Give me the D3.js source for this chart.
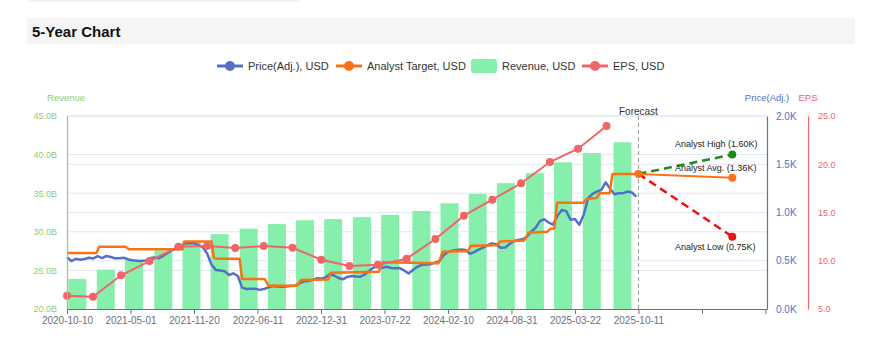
<!DOCTYPE html>
<html><head><meta charset="utf-8">
<script src="https://cdn.jsdelivr.net/npm/d3@7"></script>
<style>
body{margin:0;background:#fff;}
svg{display:block;font-family:"Liberation Sans",Arial,sans-serif;}
</style>
</head><body>
<svg id="chart" width="877" height="340"></svg>
<script>
// ---------- DATA ----------
const xTickDates = ["2020-10-10","2021-05-01","2021-11-20","2022-06-11","2022-12-31","2023-07-22","2024-02-10","2024-08-31","2025-03-22","2025-10-11","2026-05-02","2026-11-21"];
const xTickLabels = ["2020-10-10","2021-05-01","2021-11-20","2022-06-11","2022-12-31","2023-07-22","2024-02-10","2024-08-31","2025-03-22","2025-10-11","",""];

const revTicks = [20,25,30,35,40,45];          // B USD
const priceTicks = [0,0.5,1.0,1.5,2.0];        // K USD
const epsTicks = [5,10,15,20,25];

const revenueDates = ["2020-11-12","2021-02-11","2021-05-12","2021-08-14","2021-11-12","2022-02-10","2022-05-14","2022-08-12","2022-11-10","2023-02-08","2023-05-11","2023-08-09","2023-11-17","2024-02-15","2024-05-15","2024-08-13","2024-11-14","2025-02-12","2025-05-15","2025-08-21"];
const revenueValues = [23.9,25.1,26.4,27.6,28.8,29.7,30.4,31.0,31.5,31.65,31.9,32.2,32.7,33.7,34.9,36.3,37.6,39.0,40.2,41.6];

const epsDates = ["2020-10-10","2021-01-01","2021-04-01","2021-07-01","2021-10-01","2022-01-01","2022-04-01","2022-07-01","2022-10-01","2023-01-01","2023-04-01","2023-07-01","2023-10-01","2024-01-01","2024-04-01","2024-07-01","2024-10-01","2025-01-01","2025-04-01","2025-07-01"];
const epsValues = [6.38,6.27,8.49,9.97,11.46,11.53,11.32,11.53,11.35,10.11,9.46,9.59,10.21,12.25,14.67,16.33,18.03,20.23,21.61,23.96];

// Price (adj.), K USD, sampled every 14 days from priceStart
const priceStart = "2020-10-10";
const priceStepDays = 14;
const priceValues = [0.536,0.497,0.520,0.511,0.518,0.531,0.524,0.547,0.528,0.550,0.539,0.525,0.527,0.531,0.514,0.505,0.499,0.497,0.504,0.528,0.534,0.527,0.551,0.582,0.611,0.627,0.655,0.680,0.681,0.681,0.665,0.640,0.575,0.461,0.403,0.398,0.392,0.352,0.370,0.342,0.221,0.207,0.209,0.211,0.198,0.207,0.224,0.238,0.232,0.231,0.233,0.238,0.240,0.264,0.284,0.290,0.299,0.318,0.315,0.327,0.360,0.347,0.321,0.308,0.332,0.342,0.336,0.335,0.358,0.396,0.431,0.441,0.428,0.438,0.425,0.422,0.424,0.400,0.367,0.404,0.437,0.458,0.461,0.463,0.481,0.494,0.558,0.590,0.605,0.612,0.616,0.611,0.573,0.589,0.615,0.637,0.658,0.680,0.670,0.634,0.636,0.670,0.702,0.716,0.723,0.748,0.803,0.840,0.910,0.930,0.895,0.874,0.965,1.027,1.014,0.925,0.932,0.873,0.976,1.146,1.193,1.217,1.232,1.312,1.249,1.190,1.200,1.200,1.217,1.207,1.165];

// Analyst target, K USD
const targetDates = ["2020-10-13","2021-01-12","2021-01-21","2021-04-15","2021-04-26","2021-10-14","2021-10-20","2022-01-15","2022-01-23","2022-01-31","2022-04-15","2022-04-23","2022-07-04","2022-07-17","2022-10-15","2022-10-28","2023-01-23","2023-02-01","2023-07-04","2023-07-17","2024-01-11","2024-01-24","2024-04-14","2024-04-23","2024-07-16","2024-07-26","2024-10-11","2024-10-24","2024-12-23","2025-01-02","2025-01-15","2025-01-24","2025-04-18","2025-04-28","2025-05-30","2025-06-09","2025-07-11","2025-07-20","2025-10-11"];
const targetValues = [0.58,0.58,0.645,0.645,0.62,0.62,0.70,0.70,0.53,0.52,0.52,0.31,0.31,0.24,0.24,0.30,0.305,0.376,0.385,0.484,0.475,0.594,0.60,0.656,0.66,0.70,0.71,0.79,0.80,0.83,0.835,1.10,1.10,1.14,1.15,1.20,1.20,1.40,1.40];

// Forecast
const forecastStart = "2025-10-11";
const forecastEnd = "2026-08-07";
const forecastNow = 1.40;
const forecastNames = ["Analyst High","Analyst Avg.","Analyst Low"];
const forecastValues = [1.60,1.36,0.75];

const legendNames = ["Price(Adj.), USD","Analyst Target, USD","Revenue, USD","EPS, USD"];

// ---------- STYLE ----------
const C = {price:"#5470c6", target:"#f97316", rev:"#86efac", eps:"#ee6666", high:"#1f8a1f", low:"#ee1111",
  axis:"#6e7079", grid:"#e0e6f1", revAxis:"#91cc75"};

const parse = d3.timeParse("%Y-%m-%d");
const svg = d3.select("#chart");

// header
svg.append("rect").attr("x",29).attr("y",0).attr("width",270).attr("height",2).attr("fill","#eef1f6");
svg.append("rect").attr("x",27).attr("y",18).attr("width",828).attr("height",26).attr("rx",2).attr("fill","#f5f5f5");
svg.append("text").attr("x",32).attr("y",37).attr("font-size",15).attr("font-weight","bold").attr("fill","#111").text("5-Year Chart");

// scales
const x = d3.scaleTime().domain([parse("2020-10-10"), parse("2026-11-26")]).range([67, 767]);
const yRev = d3.scaleLinear().domain([20,45]).range([309,116]);
const yPrice = d3.scaleLinear().domain([0,2]).range([309,116]);
const yEps = d3.scaleLinear().domain([5,25]).range([309,116]);

// grid
const grid = svg.append("g");
revTicks.slice(1).forEach(v=>{
  grid.append("line").attr("x1",67).attr("x2",767).attr("y1",yRev(v)).attr("y2",yRev(v)).attr("stroke",C.grid);
});
priceTicks.slice(1).forEach(v=>{
  grid.append("line").attr("x1",67).attr("x2",767).attr("y1",yPrice(v)).attr("y2",yPrice(v)).attr("stroke",C.grid);
});

// bars
const barW = 18;
svg.append("g").selectAll("rect").data(revenueValues).join("rect")
  .attr("x",(d,i)=>x(parse(revenueDates[i]))-barW/2)
  .attr("width",barW)
  .attr("y",d=>yRev(d))
  .attr("height",d=>yRev(20)-yRev(d))
  .attr("fill",C.rev);

// price
const priceData = priceValues.map((v,i)=>[d3.timeDay.offset(parse(priceStart), i*priceStepDays), v]);
const line = (ys)=>d3.line().x(d=>x(d[0])).y(d=>ys(d[1]));
svg.append("path").datum(priceData).attr("d",line(yPrice)).attr("fill","none").attr("stroke",C.price).attr("stroke-width",2.5).attr("stroke-linejoin","round");

// target
const targetData = targetValues.map((v,i)=>[parse(targetDates[i]), v]);
svg.append("path").datum(targetData).attr("d",line(yPrice)).attr("fill","none").attr("stroke",C.target).attr("stroke-width",2.5).attr("stroke-linejoin","round");

// EPS
const epsData = epsValues.map((v,i)=>[parse(epsDates[i]), v]);
svg.append("path").datum(epsData).attr("d",line(yEps)).attr("fill","none").attr("stroke",C.eps).attr("stroke-width",2);
svg.append("g").selectAll("circle").data(epsData).join("circle")
  .attr("cx",d=>x(d[0])).attr("cy",d=>yEps(d[1])).attr("r",4).attr("fill",C.eps);

// forecast divider
const fx = x(parse(forecastStart));
svg.append("line").attr("x1",fx).attr("x2",fx).attr("y1",116).attr("y2",309).attr("stroke","#999").attr("stroke-dasharray","4,3");
svg.append("text").attr("x",fx).attr("y",115).attr("text-anchor","middle").attr("font-size",10).attr("fill","#333").text("Forecast");

// forecast lines
const fEnd = parse(forecastEnd);
const fColors = [C.high, C.target, C.low];
const fDash = ["8,5", null, "8,5"];
const fLabelY = [147, 171, 250];
forecastValues.forEach((v,i)=>{
  svg.append("line").attr("x1",fx).attr("y1",yPrice(forecastNow)).attr("x2",x(fEnd)).attr("y2",yPrice(v))
    .attr("stroke",fColors[i]).attr("stroke-width",i===1?2:2.5).attr("stroke-dasharray",fDash[i]);
});
forecastValues.forEach((v,i)=>{
  svg.append("circle").attr("cx",x(fEnd)).attr("cy",yPrice(v)).attr("r",4).attr("fill",fColors[i]);
  svg.append("text").attr("x",675).attr("y",fLabelY[i]).attr("font-size",9).attr("fill","#222")
    .text(`${forecastNames[i]} (${v.toFixed(2)}K)`);
});
svg.append("circle").attr("cx",fx).attr("cy",yPrice(forecastNow)).attr("r",4).attr("fill",C.target);

// axes
const ax = svg.append("g").attr("transform","translate(0,309)")
  .call(d3.axisBottom(x).tickValues(xTickDates.map(parse)).tickFormat((d,i)=>xTickLabels[i]).tickSize(5).tickPadding(3).tickSizeOuter(0));
ax.select(".domain").attr("stroke",C.axis);
ax.selectAll(".tick line").attr("stroke",C.axis);
ax.selectAll("text").attr("fill",C.axis).attr("font-size",10).attr("font-family",null);

const al = svg.append("g").attr("transform","translate(67,0)")
  .call(d3.axisLeft(yRev).tickValues(revTicks).tickFormat(d=>d.toFixed(1)+"B").tickSize(0).tickPadding(10));
al.select(".domain").attr("stroke",C.revAxis).attr("stroke-width",1.2);
al.selectAll("text").attr("fill",C.revAxis).attr("font-size",9).attr("font-family",null);

const ap = svg.append("g").attr("transform","translate(767,0)")
  .call(d3.axisRight(yPrice).tickValues(priceTicks).tickFormat(d=>d.toFixed(1)+"K").tickSize(0).tickPadding(9));
ap.select(".domain").attr("stroke",C.price).attr("stroke-width",1.2);
ap.selectAll("text").attr("fill",C.price).attr("font-size",10).attr("font-family",null);

const ae = svg.append("g").attr("transform","translate(808,0)")
  .call(d3.axisRight(yEps).tickValues(epsTicks).tickFormat(d=>d.toFixed(1)).tickSize(0).tickPadding(10));
ae.select(".domain").attr("stroke",C.eps).attr("stroke-width",1.2);
ae.selectAll("text").attr("fill",C.eps).attr("font-size",9).attr("font-family",null);

// axis titles
svg.append("text").attr("x",66).attr("y",101).attr("text-anchor","middle").attr("font-size",9.5).attr("fill",C.revAxis).text("Revenue");
svg.append("text").attr("x",767).attr("y",101).attr("text-anchor","middle").attr("font-size",9.5).attr("fill",C.price).text("Price(Adj.)");
svg.append("text").attr("x",808).attr("y",101).attr("text-anchor","middle").attr("font-size",9.5).attr("fill",C.eps).text("EPS");

// legend
const legX = [217, 336, 471, 582];
const legColors = [C.price, C.target, C.rev, C.eps];
const lg = svg.append("g");
legendNames.forEach((n,i)=>{
  const g = lg.append("g").attr("transform",`translate(${legX[i]},66)`);
  if (i===2) {
    g.append("rect").attr("x",0).attr("y",-7).attr("width",26).attr("height",14).attr("rx",3).attr("fill",legColors[i]);
  } else {
    g.append("line").attr("x1",0).attr("x2",26).attr("y1",0).attr("y2",0).attr("stroke",legColors[i]).attr("stroke-width",3);
    g.append("circle").attr("cx",13).attr("cy",0).attr("r",5).attr("fill",legColors[i]);
  }
  g.append("text").attr("x",31).attr("y",4).attr("font-size",11).attr("fill","#333").text(n);
});
</script>
</body></html>
